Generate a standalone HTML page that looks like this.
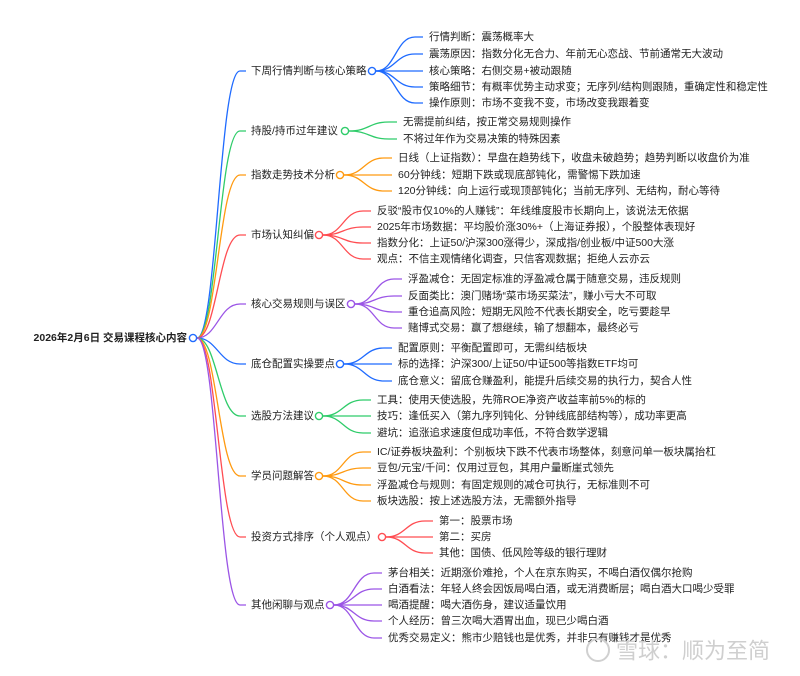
<!DOCTYPE html>
<html><head><meta charset="utf-8"><style>
html,body{margin:0;padding:0;background:#fff;width:800px;height:676px;overflow:hidden}
svg text{font-family:"Liberation Sans","Noto Sans CJK SC",sans-serif;font-size:10.5px;fill:#222;dominant-baseline:central}
</style></head><body>
<svg id="s" width="800" height="676" viewBox="0 0 800 676" xmlns="http://www.w3.org/2000/svg">
<g id="lines" fill="none" stroke-width="1.3"></g>
<text x="187" y="338" text-anchor="end" font-weight="bold">2026年2月6日 交易课程核心内容</text>
<text x="251" y="71">下周行情判断与核心策略</text>
<text x="251" y="131">持股/持币过年建议</text>
<text x="251" y="175">指数走势技术分析</text>
<text x="251" y="235">市场认知纠偏</text>
<text x="251" y="304">核心交易规则与误区</text>
<text x="251" y="364">底仓配置实操要点</text>
<text x="251" y="416">选股方法建议</text>
<text x="251" y="476">学员问题解答</text>
<text x="251" y="537">投资方式排序（个人观点）</text>
<text x="251" y="605">其他闲聊与观点</text>

<text x="429" y="37">行情判断：震荡概率大</text>
<text x="429" y="54">震荡原因：指数分化无合力、年前无心恋战、节前通常无大波动</text>
<text x="429" y="71">核心策略：右侧交易+被动跟随</text>
<text x="429" y="87">策略细节：有概率优势主动求变；无序列/结构则跟随，重确定性和稳定性</text>
<text x="429" y="103">操作原则：市场不变我不变，市场改变我跟着变</text>
<text x="403" y="122">无需提前纠结，按正常交易规则操作</text>
<text x="403" y="139">不将过年作为交易决策的特殊因素</text>
<text x="398" y="158">日线（上证指数）：早盘在趋势线下，收盘未破趋势；趋势判断以收盘价为准</text>
<text x="398" y="175">60分钟线：短期下跌或现底部钝化，需警惕下跌加速</text>
<text x="398" y="191">120分钟线：向上运行或现顶部钝化；当前无序列、无结构，耐心等待</text>
<text x="377" y="211">反驳“股市仅10%的人赚钱”：年线维度股市长期向上，该说法无依据</text>
<text x="377" y="227">2025年市场数据：平均股价涨30%+（上海证券报），个股整体表现好</text>
<text x="377" y="243">指数分化：上证50/沪深300涨得少，深成指/创业板/中证500大涨</text>
<text x="377" y="259">观点：不信主观情绪化调查，只信客观数据；拒绝人云亦云</text>
<text x="408" y="279">浮盈减仓：无固定标准的浮盈减仓属于随意交易，违反规则</text>
<text x="408" y="296">反面类比：澳门赌场“菜市场买菜法”，赚小亏大不可取</text>
<text x="408" y="312">重仓追高风险：短期无风险不代表长期安全，吃亏要趁早</text>
<text x="408" y="328">赌博式交易：赢了想继续，输了想翻本，最终必亏</text>
<text x="398" y="348">配置原则：平衡配置即可，无需纠结板块</text>
<text x="398" y="364">标的选择：沪深300/上证50/中证500等指数ETF均可</text>
<text x="398" y="381">底仓意义：留底仓赚盈利，能提升后续交易的执行力，契合人性</text>
<text x="377" y="400">工具：使用天使选股，先筛ROE净资产收益率前5%的标的</text>
<text x="377" y="416">技巧：逢低买入（第九序列钝化、分钟线底部结构等），成功率更高</text>
<text x="377" y="433">避坑：追涨追求速度但成功率低，不符合数学逻辑</text>
<text x="377" y="452">IC/证券板块盈利：个别板块下跌不代表市场整体，刻意问单一板块属抬杠</text>
<text x="377" y="468">豆包/元宝/千问：仅用过豆包，其用户量断崖式领先</text>
<text x="377" y="485">浮盈减仓与规则：有固定规则的减仓可执行，无标准则不可</text>
<text x="377" y="501">板块选股：按上述选股方法，无需额外指导</text>
<text x="439" y="521">第一：股票市场</text>
<text x="439" y="537">第二：买房</text>
<text x="439" y="553">其他：国债、低风险等级的银行理财</text>
<text x="388" y="573">茅台相关：近期涨价难抢，个人在京东购买，不喝白酒仅偶尔抢购</text>
<text x="388" y="589">白酒看法：年轻人终会因饭局喝白酒，或无消费断层；喝白酒大口喝少受罪</text>
<text x="388" y="605">喝酒提醒：喝大酒伤身，建议适量饮用</text>
<text x="388" y="621">个人经历：曾三次喝大酒胃出血，现已少喝白酒</text>
<text x="388" y="638">优秀交易定义：熊市少赔钱也是优秀，并非只有赚钱才是优秀</text>
<g id="circ" fill="#fff" stroke-width="1.4"></g>
<circle cx="598" cy="650" r="11" fill="none" stroke="#d0d0d0" stroke-width="2"/>
<text x="616" y="651" style="font-size:22px;fill:#cfcfcf">雪球：顺为至简</text>
</svg>
<script>
var B='#1f6bff',G='#2fcc6a',O='#ff9a10',R='#ff4d52',P='#9b55e6';
var br=[[71,372,B,429,[37,54,71,87,103]],[131,345,G,403,[122,139]],[175,340,O,398,[158,175,191]],
[235,319,R,377,[211,227,243,259]],[304,351,P,408,[279,296,312,328]],[364,340,B,398,[348,364,381]],
[416,319,G,377,[400,416,433]],[476,319,O,377,[452,468,485,501]],[537,382,R,439,[521,537,553]],
[605,330,P,388,[573,589,605,621,638]]];
var L=document.getElementById('lines'),C=document.getElementById('circ'),ns='http://www.w3.org/2000/svg';
function p(d,c){var e=document.createElementNS(ns,'path');e.setAttribute('d',d);e.setAttribute('stroke',c);L.appendChild(e);}
function ci(x,y,c){var e=document.createElementNS(ns,'circle');e.setAttribute('cx',x);e.setAttribute('cy',y);e.setAttribute('r',3.6);e.setAttribute('stroke',c);C.appendChild(e);}
ci(193,338,B);
br.forEach(function(b){
 var y=b[0],x0=197,x1=240;
 p('M'+x0+' 338 C'+(x0+20)+' 338 '+(x0+22)+' '+y+' '+x1+' '+y+' L246 '+y,b[2]);
 var cx=b[1];ci(cx,y,b[2]);
 var s=cx+4,e=b[3]-6,m=e-8;
 b[4].forEach(function(ly){
  p('M'+s+' '+y+' C'+(s+(m-s)*0.5)+' '+y+' '+(s+(m-s)*0.5)+' '+ly+' '+m+' '+ly+' L'+e+' '+ly,b[2]);
 });
});
</script>
</body></html>
